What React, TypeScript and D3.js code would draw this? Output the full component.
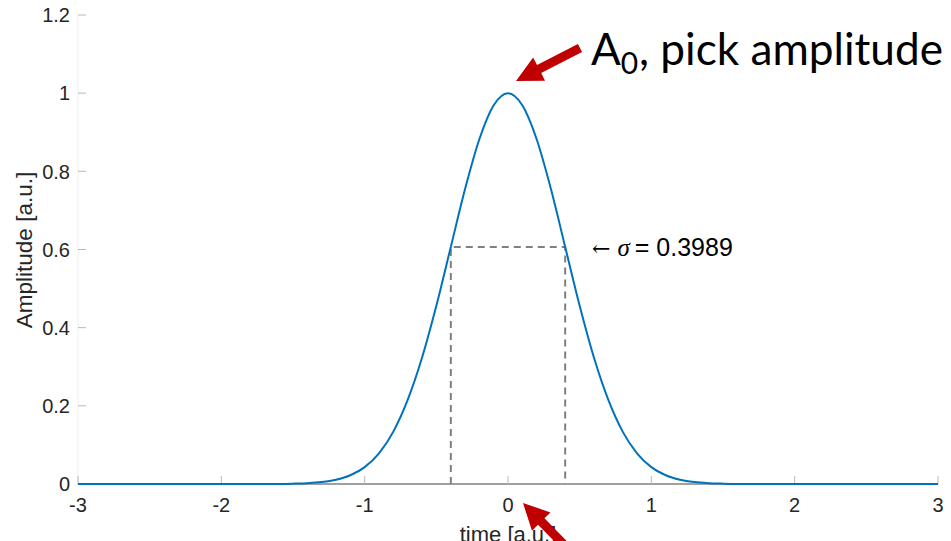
import React from "react";
import * as d3 from "d3";

// Gaussian pulse samples (time, amplitude)
const timeValues = [
  -3, -2.5, -2, -1.6, -1.5, -1.4, -1.3, -1.2, -1.1, -1.0, -0.9, -0.8, -0.7, -0.6, -0.5, -0.4, -0.3, -0.2, -0.1,
  0, 0.1, 0.2, 0.3, 0.4, 0.5, 0.6, 0.7, 0.8, 0.9, 1.0, 1.1, 1.2, 1.3, 1.4, 1.5, 1.6, 2, 2.5, 3,
];
const amplitudeValues = [
  0, 0, 0, 0.0003, 0.0009, 0.0021, 0.0049, 0.0108, 0.0223, 0.0432, 0.0785, 0.134, 0.215, 0.323, 0.456, 0.605, 0.754, 0.882, 0.969,
  1, 0.969, 0.882, 0.754, 0.605, 0.456, 0.323, 0.215, 0.134, 0.0785, 0.0432, 0.0223, 0.0108, 0.0049, 0.0021, 0.0009, 0.0003, 0, 0, 0,
];
const sigma = 0.3989;
const sigmaLevel = 0.6065;

const xTicks = [-3, -2, -1, 0, 1, 2, 3];
const yTicks = [0, 0.2, 0.4, 0.6, 0.8, 1, 1.2];

const W = 951;
const H = 541;

function arrowPath(tip: [number, number], tail: [number, number], headLen = 26, headHalf = 13, shaftHalf = 4.5) {
  const dx = tip[0] - tail[0];
  const dy = tip[1] - tail[1];
  const len = Math.hypot(dx, dy);
  const ux = dx / len;
  const uy = dy / len;
  const nx = -uy;
  const ny = ux;
  const bx = tip[0] - ux * headLen;
  const by = tip[1] - uy * headLen;
  const pts: [number, number][] = [
    [tail[0] + nx * shaftHalf, tail[1] + ny * shaftHalf],
    [bx + nx * shaftHalf, by + ny * shaftHalf],
    [bx + nx * headHalf, by + ny * headHalf],
    tip,
    [bx - nx * headHalf, by - ny * headHalf],
    [bx - nx * shaftHalf, by - ny * shaftHalf],
    [tail[0] - nx * shaftHalf, tail[1] - ny * shaftHalf],
  ];
  return "M" + pts.map((p) => p.join(",")).join("L") + "Z";
}

export default function App() {
  const x = d3.scaleLinear().domain([-3, 3]).range([78, 938]);
  const y = d3.scaleLinear().domain([0, 1.2]).range([484, 15]);

  const data = timeValues.map((t, i) => [t, amplitudeValues[i]] as [number, number]);
  const line = d3
    .line<[number, number]>()
    .x((d) => x(d[0]))
    .y((d) => y(d[1]))
    .curve(d3.curveMonotoneX);

  const axisFont = "'Liberation Sans', Arial, Helvetica, sans-serif";
  const bigFont = "Lato, 'Open Sans', sans-serif";

  const x0 = x(-sigma);
  const x1 = x(sigma);
  const ys = y(sigmaLevel);
  const yBase = y(0);

  return (
    <svg
      width={W}
      height={H}
      viewBox={`0 0 ${W} ${H}`}
      style={{ position: "absolute", left: 0, top: 0, background: "#fff" }}
    >
      <rect x={0} y={0} width={W} height={H} fill="#fff" />

      {/* y axis */}
      <line x1={x(-3)} x2={x(-3)} y1={y(0)} y2={y(1.2)} stroke="#f0f0f0" strokeWidth={1} />
      {yTicks.map((v) => (
        <g key={"y" + v}>
          <line x1={x(-3)} x2={x(-3) + 8} y1={y(v)} y2={y(v)} stroke="#b8b8b8" strokeWidth={1} />
          <text
            x={70}
            y={y(v)}
            dy="0.36em"
            textAnchor="end"
            fontFamily={axisFont}
            fontSize={20}
            fill="#262626"
          >
            {String(v)}
          </text>
        </g>
      ))}

      {/* x axis */}
      <line x1={x(-3)} x2={x(3)} y1={yBase} y2={yBase} stroke="#404040" strokeWidth={1} />
      {xTicks.map((v) => (
        <g key={"x" + v}>
          <line x1={x(v)} x2={x(v)} y1={yBase} y2={yBase - 8} stroke="#b8b8b8" strokeWidth={1} />
          <text
            x={x(v)}
            y={512}
            textAnchor="middle"
            fontFamily={axisFont}
            fontSize={20}
            fill="#262626"
          >
            {v}
          </text>
        </g>
      ))}

      {/* axis titles */}
      <text
        x={x(0)}
        y={542}
        textAnchor="middle"
        fontFamily={axisFont}
        fontSize={22}
        fill="#262626"
      >
        time [a.u.]
      </text>
      <text
        transform={`translate(32, 250) rotate(-90)`}
        textAnchor="middle"
        fontFamily={axisFont}
        fontSize={22.5}
        fill="#262626"
      >
        Amplitude [a.u.]
      </text>

      {/* sigma marker */}
      <path
        d={`M${x0},${yBase}V${ys}H${x1}V${yBase}`}
        fill="none"
        stroke="#808080"
        strokeWidth={2}
        strokeDasharray="7,5"
      />

      {/* gaussian curve */}
      <path d={line(data) || ""} fill="none" stroke="#0072BD" strokeWidth={2} />

      {/* sigma label */}
      <text x={592} y={256} fontSize={25} fill="#000">
        <tspan fontFamily="'DejaVu Serif', 'Liberation Serif', serif" fontSize={22}>
          ←
        </tspan>
        <tspan dx={7} fontFamily="'Liberation Serif', serif" fontStyle="italic" fontSize={25}>
          σ
        </tspan>
        <tspan dx={5} fontFamily={axisFont}>
          = 0.3989
        </tspan>
      </text>

      {/* annotation */}
      <path d={arrowPath([516, 81], [580, 48])} fill="#C00000" />
      <path d={arrowPath([523, 503], [585, 566])} fill="#C00000" />
      <text x={591} y={65} fontFamily={bigFont} fontSize={44} fill="#000">
        <tspan>A</tspan>
        <tspan dy={9} fontSize={30}>
          0
        </tspan>
        <tspan x={639} dy={-9} textLength={304} lengthAdjust="spacingAndGlyphs">
          , pick amplitude
        </tspan>
      </text>
    </svg>
  );
}
